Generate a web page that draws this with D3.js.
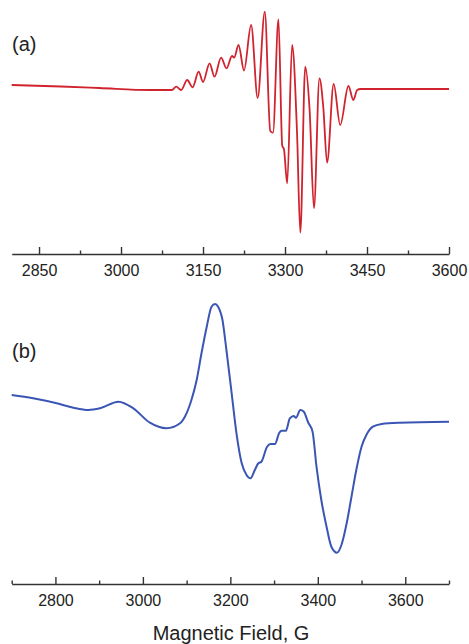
<!DOCTYPE html>
<html>
<head>
<meta charset="utf-8">
<script src="https://cdn.jsdelivr.net/npm/d3@7"></script>
<style>
  html, body { margin: 0; padding: 0; background: #fff; }
  svg { display: block; }
  text { font-family: "Liberation Sans", Arial, Helvetica, sans-serif; fill: #222; }
</style>
</head>
<body>
<svg id="chart" width="469" height="644"></svg>
<script>
// ---- Panel (a) data: magnetic field (G) and derivative intensity (arb. units)
const fieldA = [2800, 2890, 2960, 3053, 3093, 3101, 3110, 3121, 3131, 3142, 3150, 3162, 3171, 3183, 3193, 3203, 3207, 3215, 3225, 3238, 3250, 3263, 3273, 3278, 3288, 3295, 3298, 3304, 3313, 3322, 3328, 3337, 3345, 3353, 3363, 3370, 3377, 3389, 3401, 3416, 3425, 3432, 3438, 3600];
const intensityA = [4, 2.5, 1, -1, -1, 2.3, -1, 9, 1.7, 17.3, 7, 25.7, 12.3, 31.3, 20.7, 33, 31.5, 44, 18.5, 64, -9, 77.3, -42, -43.7, 69.7, -57, -60, -94.3, 44, -44, -143.7, 22.3, -21, -119.3, 10.7, -18, -73.7, 5, -36, 3, -11, -1, 0, 0];
const majorTicksA = [2850, 3000, 3150, 3300, 3450, 3600];
const minorTicksA = [2925, 3075, 3225, 3375, 3525];

// ---- Panel (b) data
const fieldB = [2700, 2749, 2803, 2841, 2875, 2902, 2944, 2978, 3016, 3054, 3085, 3096, 3111, 3123, 3134, 3146, 3157, 3165, 3172, 3182, 3191, 3203, 3214, 3226, 3237, 3246, 3256, 3264, 3271, 3284, 3292, 3302, 3312, 3317, 3327, 3336, 3345, 3350, 3360, 3368, 3378, 3388, 3397, 3408, 3420, 3431, 3444, 3454, 3466, 3477, 3488, 3500, 3511, 3526, 3546, 3587, 3700];
const intensityB = [27, 23.7, 18.7, 14.3, 12, 13.7, 20.3, 13.7, -0.7, -6.3, -1.3, 5.3, 22, 42, 68.7, 95.3, 115.3, 118, 115.3, 102, 72, 28.7, -11.3, -41.3, -53, -56.3, -48, -41.3, -39.7, -24.7, -22, -22, -10.7, -8.7, -8.7, 3.7, 6, 4.3, 12, 10.3, -0.5, -9.7, -44.7, -78, -104.7, -124.7, -130.7, -123, -101.3, -74.7, -48, -24.7, -13, -4.7, -2, -0.7, 0.3];
const majorTicksB = [2800, 3000, 3200, 3400, 3600];
const minorTicksB = [2700, 2900, 3100, 3300, 3500, 3700];

const panelLabels = ["(a)", "(b)"];
const xTitle = "Magnetic Field, G";

const svg = d3.select("#chart");
const X0 = 11.7, X1 = 449;

function panel(cfg) {
  const x = d3.scaleLinear().domain(cfg.xDomain).range([X0, X1]);
  const y = d3.scaleLinear().domain([0, 100]).range([cfg.zeroY, cfg.zeroY - 100]);
  const g = svg.append("g");

  // minor ticks + domain line
  const minorAxis = d3.axisBottom(x).tickValues(cfg.minor).tickSize(-3.5).tickSizeOuter(0).tickFormat("");
  const gm = g.append("g").attr("transform", `translate(0,${cfg.axisY})`).call(minorAxis);
  gm.select(".domain").attr("stroke", "#333").attr("stroke-width", 1.4);
  gm.selectAll(".tick line").attr("stroke", "#333").attr("stroke-width", 1.4);

  // major ticks with labels
  const majorAxis = d3.axisBottom(x).tickValues(cfg.major).tickSize(-7).tickSizeOuter(0).tickPadding(cfg.pad).tickFormat(d3.format("d"));
  const ga = g.append("g").attr("transform", `translate(0,${cfg.axisY})`).call(majorAxis);
  ga.select(".domain").remove();
  ga.selectAll(".tick line").attr("stroke", "#333").attr("stroke-width", 1.4);
  ga.selectAll(".tick text").attr("font-size", 16).attr("font-family", "Liberation Sans, Arial, sans-serif").attr("fill", "#222");

  const line = d3.line().x(d => x(d[0])).y(d => y(d[1])).curve(d3.curveMonotoneX);
  const pts = cfg.fields.map((f, i) => [f, cfg.values[i]]);
  g.append("path").datum(pts).attr("d", line)
    .attr("fill", "none").attr("stroke", cfg.color).attr("stroke-width", cfg.width)
    .attr("stroke-linejoin", "round");

  g.append("text").attr("x", 12).attr("y", cfg.labelY).attr("font-size", 20).text(cfg.label);
}

panel({ xDomain: [2800, 3600], major: majorTicksA, minor: minorTicksA, axisY: 254, pad: 11,
        zeroY: 89, fields: fieldA, values: intensityA, color: "#d0232e", width: 1.8, label: panelLabels[0], labelY: 51 });
panel({ xDomain: [2700, 3700], major: majorTicksB, minor: minorTicksB, axisY: 584, pad: 11,
        zeroY: 422, fields: fieldB, values: intensityB, color: "#3a55b4", width: 2, label: panelLabels[1], labelY: 358 });

svg.append("text").attr("x", 231).attr("y", 640).attr("text-anchor", "middle")
  .attr("font-size", 20).text(xTitle);
</script>
</body>
</html>
